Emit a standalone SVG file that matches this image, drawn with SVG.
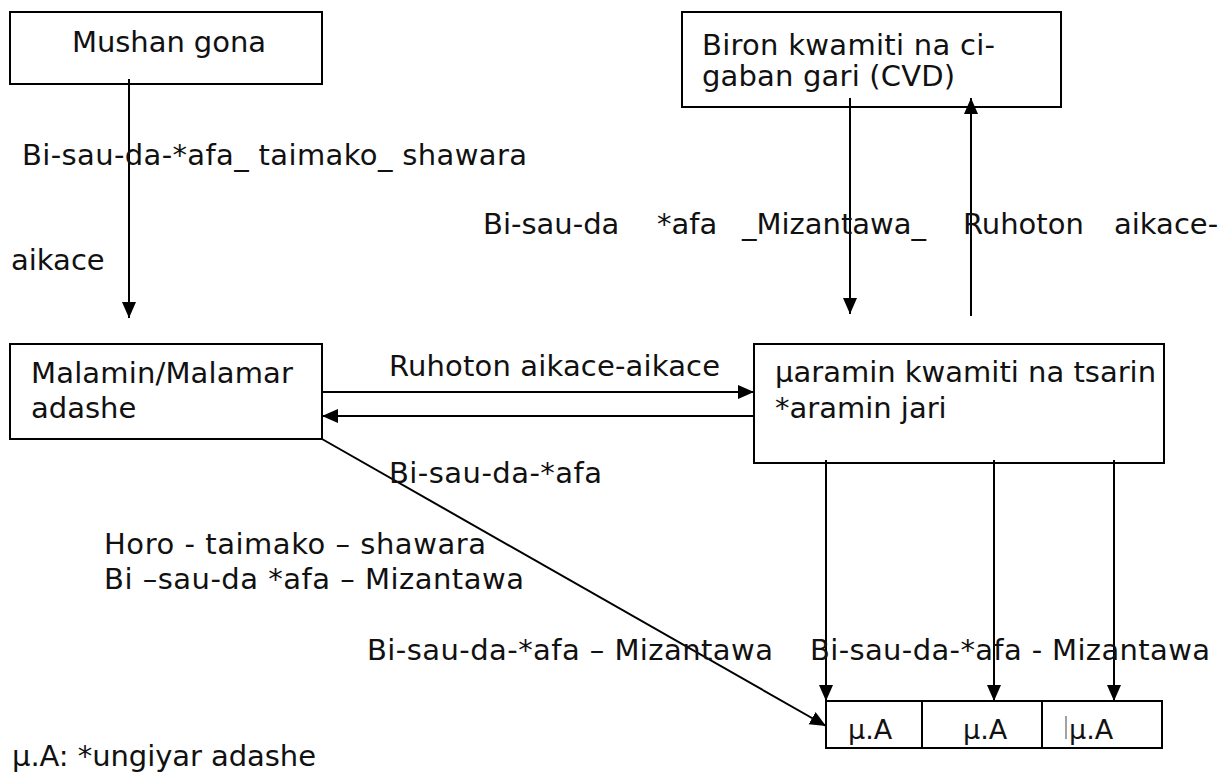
<svg xmlns="http://www.w3.org/2000/svg" width="1229" height="774" viewBox="0 0 1229 774">
<style>
text{font-family:"DejaVu Sans","Liberation Sans",sans-serif;font-size:29px;fill:#111}
.box{fill:#fff;stroke:#000;stroke-width:2}
.ln{fill:none;stroke:#000;stroke-width:2}
.cell{font-size:27px}
</style>
<defs>
<marker id="ah" markerUnits="userSpaceOnUse" markerWidth="17" markerHeight="15" refX="16" refY="7" orient="auto">
<path d="M0,0 L16,7 L0,14 Z" fill="#000"/>
</marker>
</defs>
<rect width="1229" height="774" fill="#fff"/>

<g id="node-mushan">
<rect class="box" x="10" y="12" width="312" height="72"/>
<text x="72" y="52" textLength="194" lengthAdjust="spacing">Mushan gona</text>
</g>

<g id="node-biron">
<rect class="box" x="682" y="12" width="379" height="95"/>
<text x="702" y="55" textLength="293" lengthAdjust="spacing">Biron kwamiti na ci-</text>
<text x="702" y="86" textLength="253" lengthAdjust="spacing">gaban gari (CVD)</text>
</g>

<g id="node-malamin">
<rect class="box" x="10" y="344" width="312" height="95"/>
<text x="31" y="383" textLength="262" lengthAdjust="spacing">Malamin/Malamar</text>
<text x="31" y="418">adashe</text>
</g>

<g id="node-karamin">
<rect class="box" x="754" y="344" width="410" height="119"/>
<text x="775" y="382">μaramin kwamiti na tsarin</text>
<text x="775" y="418">*aramin jari</text>
</g>

<g id="node-ka">
<rect class="box" x="826" y="701" width="336" height="47"/>
<line class="ln" x1="922" y1="701" x2="922" y2="748"/>
<line class="ln" x1="1042" y1="701" x2="1042" y2="748"/>
<text class="cell" x="848" y="739">μ.A</text>
<text class="cell" x="963" y="739">μ.A</text>
<line x1="1066" y1="716" x2="1066" y2="739" stroke="#444" stroke-width="1"/>
<text class="cell" x="1069" y="739">μ.A</text>
</g>

<g id="connectors">
<line class="ln" x1="129" y1="79" x2="129" y2="318" marker-end="url(#ah)"/>
<line class="ln" x1="850" y1="98" x2="850" y2="314" marker-end="url(#ah)"/>
<line class="ln" x1="971" y1="316" x2="971" y2="98" marker-end="url(#ah)"/>
<line class="ln" x1="322" y1="392" x2="754" y2="392" marker-end="url(#ah)"/>
<line class="ln" x1="754" y1="416" x2="322" y2="416" marker-end="url(#ah)"/>
<line class="ln" x1="322" y1="439" x2="826" y2="726" marker-end="url(#ah)"/>
<line class="ln" x1="826" y1="460" x2="826" y2="701" marker-end="url(#ah)"/>
<line class="ln" x1="994" y1="460" x2="994" y2="701" marker-end="url(#ah)"/>
<line class="ln" x1="1114" y1="460" x2="1114" y2="701" marker-end="url(#ah)"/>
</g>

<g id="labels">
<text x="22" y="165" textLength="505" lengthAdjust="spacing">Bi-sau-da-*afa_ taimako_ shawara</text>
<text y="234"><tspan x="483">Bi-sau-da</tspan><tspan x="657">*afa</tspan><tspan x="742">_Mizantawa_</tspan><tspan x="963">Ruhoton</tspan><tspan x="1114">aikace-</tspan></text>
<text x="11" y="270">aikace</text>
<text x="389" y="376" textLength="331" lengthAdjust="spacing">Ruhoton aikace-aikace</text>
<text x="389" y="483" textLength="213" lengthAdjust="spacing">Bi-sau-da-*afa</text>
<text x="104" y="554" textLength="382" lengthAdjust="spacing">Horo - taimako – shawara</text>
<text x="104" y="589" textLength="420" lengthAdjust="spacing">Bi –sau-da *afa – Mizantawa</text>
<text x="367" y="660" textLength="406" lengthAdjust="spacing">Bi-sau-da-*afa – Mizantawa</text>
<text x="810" y="660" textLength="400" lengthAdjust="spacing">Bi-sau-da-*afa - Mizantawa</text>
<text x="12" y="766" textLength="304" lengthAdjust="spacing">μ.A: *ungiyar adashe</text>
</g>
</svg>
